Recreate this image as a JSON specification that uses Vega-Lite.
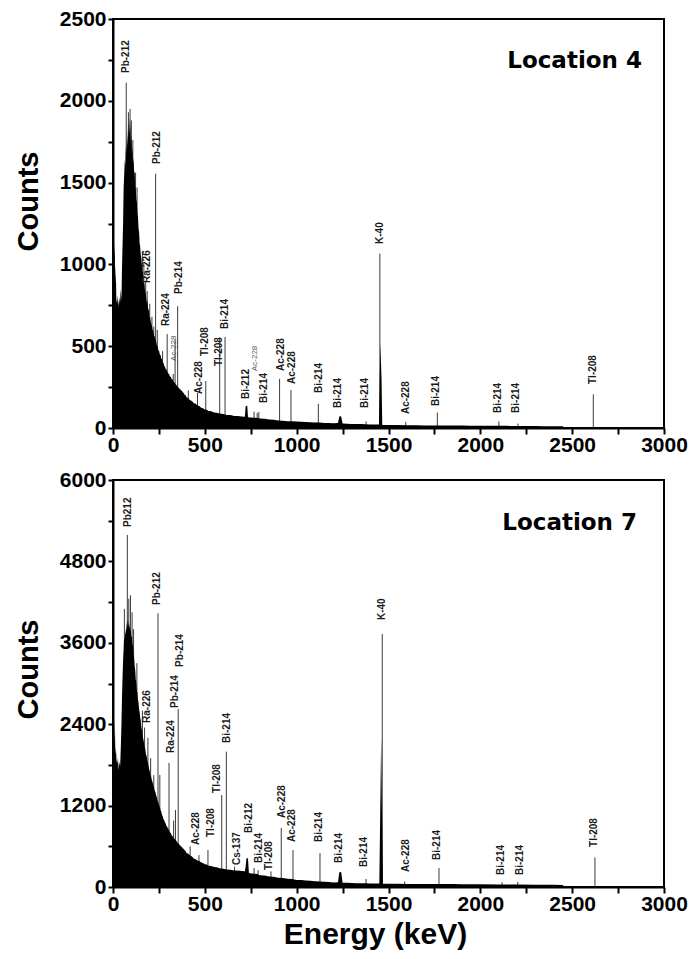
{
  "$schema": "https://vega.github.io/schema/vega-lite/v6.json",
  "padding": {"left": 13, "top": 7, "right": 5, "bottom": 3},
  "spacing": 12,
  "resolve": {"scale": {"x": "independent", "y": "independent"}},
  "config": {
    "view": {"stroke": "black", "strokeWidth": 2},
    "font": "Liberation Sans",
    "axis": {
      "grid": false,
      "domainColor": "black",
      "domainWidth": 2,
      "tickColor": "black",
      "tickWidth": 2,
      "labelFont": "Liberation Sans",
      "labelFontWeight": "bold",
      "labelFontSize": 21,
      "labelColor": "black",
      "labelOverlap": false,
      "labelFlush": false,
      "titleFont": "Liberation Sans",
      "titleFontWeight": "bold",
      "titleColor": "black",
      "titleFontSize": 29
    }
  },
  "datasets": {
    "s4": [
      {"e":0,"c":0},{"e":2,"c":2230},{"e":4,"c":1300},{"e":6,"c":1050},{"e":9,"c":1120},{"e":12,"c":880},{"e":15,"c":1000},{"e":18,"c":790},{"e":22,"c":760},{"e":26,"c":810},{"e":30,"c":740},{"e":34,"c":800},{"e":38,"c":760},{"e":42,"c":850},{"e":46,"c":780},{"e":49,"c":980},{"e":52,"c":1120},{"e":55,"c":1260},{"e":58,"c":1470},{"e":61,"c":1550},{"e":64,"c":1640},{"e":67,"c":1600},{"e":70,"c":1720},{"e":73,"c":1680},{"e":76,"c":1800},{"e":79,"c":1720},{"e":82,"c":1870},{"e":85,"c":1760},{"e":88,"c":1900},{"e":91,"c":1800},{"e":94,"c":1860},{"e":97,"c":1740},{"e":100,"c":1790},{"e":103,"c":1680},{"e":106,"c":1720},{"e":109,"c":1620},{"e":112,"c":1650},{"e":115,"c":1560},{"e":118,"c":1570},{"e":121,"c":1470},{"e":124,"c":1460},{"e":127,"c":1400},{"e":130,"c":1380},{"e":133,"c":1310},{"e":136,"c":1290},{"e":139,"c":1220},{"e":142,"c":1200},{"e":145,"c":1130},{"e":148,"c":1110},{"e":151,"c":1060},{"e":155,"c":1030},{"e":159,"c":960},{"e":163,"c":950},{"e":167,"c":890},{"e":171,"c":880},{"e":175,"c":830},{"e":179,"c":820},{"e":183,"c":770},{"e":187,"c":780},{"e":191,"c":730},{"e":195,"c":720},{"e":199,"c":680},{"e":203,"c":670},{"e":207,"c":640},{"e":211,"c":630},{"e":215,"c":600},{"e":219,"c":595},{"e":223,"c":565},{"e":227,"c":560},{"e":231,"c":540},{"e":235,"c":530},{"e":239,"c":505},{"e":243,"c":500},{"e":247,"c":475},{"e":251,"c":470},{"e":255,"c":450},{"e":259,"c":445},{"e":263,"c":425},{"e":267,"c":420},{"e":271,"c":400},{"e":275,"c":398},{"e":279,"c":380},{"e":283,"c":375},{"e":287,"c":360},{"e":291,"c":358},{"e":295,"c":345},{"e":300,"c":335},{"e":305,"c":330},{"e":310,"c":315},{"e":315,"c":312},{"e":320,"c":298},{"e":325,"c":296},{"e":330,"c":282},{"e":335,"c":280},{"e":340,"c":268},{"e":345,"c":265},{"e":350,"c":252},{"e":355,"c":250},{"e":360,"c":242},{"e":365,"c":238},{"e":370,"c":230},{"e":375,"c":228},{"e":380,"c":218},{"e":385,"c":214},{"e":390,"c":204},{"e":395,"c":200},{"e":400,"c":190},{"e":410,"c":182},{"e":420,"c":170},{"e":430,"c":165},{"e":440,"c":152},{"e":450,"c":148},{"e":460,"c":138},{"e":470,"c":134},{"e":480,"c":124},{"e":490,"c":121},{"e":500,"c":113},{"e":510,"c":111},{"e":520,"c":104},{"e":535,"c":102},{"e":550,"c":95},{"e":565,"c":93},{"e":580,"c":88},{"e":600,"c":86},{"e":620,"c":80},{"e":640,"c":79},{"e":660,"c":74},{"e":680,"c":73},{"e":700,"c":70},{"e":718,"c":69},{"e":722,"c":132},{"e":731,"c":138},{"e":735,"c":66},{"e":750,"c":64},{"e":765,"c":62},{"e":780,"c":63},{"e":800,"c":58},{"e":825,"c":56},{"e":850,"c":52},{"e":875,"c":50},{"e":900,"c":46},{"e":925,"c":45},{"e":950,"c":42},{"e":975,"c":41},{"e":1000,"c":39},{"e":1025,"c":38},{"e":1050,"c":36},{"e":1075,"c":35},{"e":1100,"c":34},{"e":1125,"c":33},{"e":1150,"c":31},{"e":1175,"c":30},{"e":1200,"c":29},{"e":1225,"c":30},{"e":1232,"c":70},{"e":1242,"c":72},{"e":1250,"c":27},{"e":1275,"c":26},{"e":1300,"c":25},{"e":1325,"c":24},{"e":1350,"c":24},{"e":1375,"c":23},{"e":1400,"c":22},{"e":1425,"c":22},{"e":1448,"c":21},{"e":1452,"c":280},{"e":1456,"c":520},{"e":1462,"c":300},{"e":1466,"c":19},{"e":1480,"c":19},{"e":1500,"c":18},{"e":1550,"c":18},{"e":1600,"c":17},{"e":1650,"c":17},{"e":1700,"c":16},{"e":1750,"c":16},{"e":1800,"c":15},{"e":1850,"c":15},{"e":1900,"c":15},{"e":1950,"c":14},{"e":2000,"c":14},{"e":2050,"c":14},{"e":2100,"c":13},{"e":2150,"c":13},{"e":2200,"c":12},{"e":2250,"c":12},{"e":2300,"c":12},{"e":2350,"c":11},{"e":2400,"c":11},{"e":2450,"c":10},{"e":2455,"c":2},{"e":2550,"c":2},{"e":2600,"c":1},{"e":2700,"c":1},{"e":3000,"c":0}
    ],
    "r4": [
      {"e":72,"c":2110},{"e":232,"c":1554},{"e":186,"c":837},{"e":295,"c":574},{"e":338,"c":540},{"e":352,"c":745},{"e":460,"c":215},{"e":505,"c":287},{"e":581,"c":550},{"e":610,"c":556},{"e":768,"c":100},{"e":785,"c":92},{"e":794,"c":98},{"e":907,"c":300},{"e":969,"c":232},{"e":1118,"c":148},{"e":1378,"c":40},{"e":1453,"c":1066},{"e":1594,"c":38},{"e":1766,"c":94},{"e":2101,"c":40},{"e":2205,"c":27},{"e":2615,"c":206},
      {"e":84,"c":1930},{"e":93,"c":1950},{"e":100,"c":1880},{"e":108,"c":1760},{"e":123,"c":1560},{"e":131,"c":1470},{"e":160,"c":1080},{"e":168,"c":1000},{"e":178,"c":900},{"e":200,"c":760},{"e":212,"c":680},{"e":222,"c":620},{"e":241,"c":600},{"e":270,"c":470},{"e":328,"c":330},{"e":410,"c":230}
    ],
    "t4": [
      {"n":"Pb-212","e":72,"c":2170},{"n":"Pb-212","e":241,"c":1614},{"n":"Ra-226","e":187,"c":886},{"n":"Ra-224","e":287,"c":623},{"n":"Pb-214","e":359,"c":819},{"n":"Ac-228","e":468,"c":208},{"n":"Tl-208","e":501,"c":440},{"n":"Tl-208","e":577,"c":379},{"n":"Bi-214","e":610,"c":605},{"n":"Bi-212","e":722,"c":177},{"n":"Bi-214","e":822,"c":153},{"n":"Ac-228","e":913,"c":348},{"n":"Ac-228","e":973,"c":269},{"n":"Bi-214","e":1121,"c":214},{"n":"Bi-214","e":1227,"c":122},{"n":"Bi-214","e":1370,"c":122},{"n":"K-40","e":1453,"c":1125},{"n":"Ac-228","e":1594,"c":85},{"n":"Bi-214","e":1757,"c":134},{"n":"Bi-214","e":2096,"c":92},{"n":"Bi-214","e":2196,"c":92},{"n":"Tl-208","e":2613,"c":269}
    ],
    "m4": [
      {"n":"Ac-228","e":332,"c":410},{"n":"Ac-228","e":773,"c":348}
    ],
    "s7": [
      {"e":0,"c":0},{"e":2,"c":3670},{"e":4,"c":2500},{"e":7,"c":2100},{"e":10,"c":2460},{"e":13,"c":1950},{"e":16,"c":2050},{"e":19,"c":1870},{"e":23,"c":1820},{"e":27,"c":1900},{"e":31,"c":1720},{"e":35,"c":1850},{"e":39,"c":1780},{"e":43,"c":2100},{"e":46,"c":2400},{"e":49,"c":2800},{"e":52,"c":3100},{"e":55,"c":3350},{"e":58,"c":3500},{"e":61,"c":3700},{"e":64,"c":3620},{"e":67,"c":3800},{"e":70,"c":3720},{"e":73,"c":3900},{"e":76,"c":3780},{"e":79,"c":3950},{"e":82,"c":3830},{"e":85,"c":3920},{"e":88,"c":3800},{"e":91,"c":3880},{"e":94,"c":3750},{"e":97,"c":3820},{"e":100,"c":3680},{"e":103,"c":3700},{"e":106,"c":3560},{"e":109,"c":3580},{"e":112,"c":3420},{"e":115,"c":3380},{"e":118,"c":3250},{"e":121,"c":3200},{"e":124,"c":3060},{"e":127,"c":3020},{"e":130,"c":2900},{"e":133,"c":2860},{"e":136,"c":2760},{"e":139,"c":2720},{"e":142,"c":2620},{"e":145,"c":2580},{"e":148,"c":2500},{"e":151,"c":2460},{"e":155,"c":2350},{"e":159,"c":2300},{"e":163,"c":2200},{"e":167,"c":2160},{"e":171,"c":2080},{"e":175,"c":2040},{"e":179,"c":1960},{"e":183,"c":1930},{"e":187,"c":1860},{"e":191,"c":1820},{"e":195,"c":1760},{"e":199,"c":1720},{"e":203,"c":1660},{"e":207,"c":1630},{"e":211,"c":1580},{"e":215,"c":1550},{"e":219,"c":1500},{"e":223,"c":1470},{"e":227,"c":1420},{"e":231,"c":1400},{"e":235,"c":1350},{"e":239,"c":1320},{"e":243,"c":1270},{"e":247,"c":1250},{"e":251,"c":1200},{"e":255,"c":1180},{"e":259,"c":1130},{"e":263,"c":1110},{"e":267,"c":1060},{"e":271,"c":1040},{"e":275,"c":1000},{"e":279,"c":985},{"e":283,"c":950},{"e":287,"c":935},{"e":291,"c":900},{"e":295,"c":890},{"e":300,"c":860},{"e":305,"c":840},{"e":310,"c":805},{"e":315,"c":795},{"e":320,"c":760},{"e":325,"c":750},{"e":330,"c":720},{"e":335,"c":712},{"e":340,"c":690},{"e":345,"c":680},{"e":350,"c":655},{"e":355,"c":648},{"e":360,"c":625},{"e":365,"c":618},{"e":370,"c":598},{"e":375,"c":590},{"e":380,"c":570},{"e":385,"c":562},{"e":390,"c":540},{"e":395,"c":530},{"e":400,"c":500},{"e":410,"c":490},{"e":420,"c":465},{"e":430,"c":450},{"e":440,"c":420},{"e":450,"c":410},{"e":460,"c":392},{"e":470,"c":385},{"e":480,"c":362},{"e":490,"c":355},{"e":500,"c":335},{"e":510,"c":330},{"e":520,"c":315},{"e":535,"c":310},{"e":550,"c":295},{"e":565,"c":290},{"e":580,"c":275},{"e":600,"c":270},{"e":620,"c":258},{"e":640,"c":254},{"e":660,"c":245},{"e":680,"c":242},{"e":700,"c":235},{"e":718,"c":232},{"e":722,"c":300},{"e":727,"c":427},{"e":735,"c":420},{"e":740,"c":205},{"e":755,"c":200},{"e":770,"c":196},{"e":785,"c":190},{"e":800,"c":175},{"e":825,"c":170},{"e":850,"c":155},{"e":875,"c":150},{"e":900,"c":135},{"e":925,"c":131},{"e":950,"c":120},{"e":975,"c":117},{"e":1000,"c":105},{"e":1025,"c":102},{"e":1050,"c":95},{"e":1075,"c":92},{"e":1100,"c":85},{"e":1125,"c":82},{"e":1150,"c":76},{"e":1175,"c":74},{"e":1200,"c":68},{"e":1225,"c":70},{"e":1232,"c":215},{"e":1242,"c":226},{"e":1250,"c":64},{"e":1275,"c":61},{"e":1300,"c":58},{"e":1325,"c":57},{"e":1350,"c":55},{"e":1375,"c":54},{"e":1400,"c":52},{"e":1425,"c":51},{"e":1450,"c":50},{"e":1455,"c":1100},{"e":1460,"c":2200},{"e":1464,"c":1200},{"e":1470,"c":49},{"e":1480,"c":49},{"e":1500,"c":48},{"e":1550,"c":47},{"e":1600,"c":46},{"e":1650,"c":46},{"e":1700,"c":45},{"e":1750,"c":44},{"e":1800,"c":44},{"e":1850,"c":43},{"e":1900,"c":42},{"e":1950,"c":41},{"e":2000,"c":40},{"e":2100,"c":38},{"e":2200,"c":36},{"e":2300,"c":34},{"e":2400,"c":32},{"e":2450,"c":30},{"e":2455,"c":4},{"e":2550,"c":4},{"e":2600,"c":3},{"e":2700,"c":2},{"e":3000,"c":0}
    ],
    "r7": [
      {"e":78,"c":5190},{"e":245,"c":4035},{"e":190,"c":2200},{"e":305,"c":1830},{"e":340,"c":1135},{"e":355,"c":2624},{"e":468,"c":470},{"e":517,"c":545},{"e":592,"c":1356},{"e":617,"c":1995},{"e":662,"c":300},{"e":768,"c":280},{"e":790,"c":250},{"e":860,"c":230},{"e":916,"c":870},{"e":980,"c":545},{"e":1127,"c":500},{"e":1378,"c":118},{"e":1466,"c":3730},{"e":1588,"c":80},{"e":1775,"c":280},{"e":2118,"c":70},{"e":2204,"c":75},{"e":2624,"c":438},
      {"e":62,"c":4100},{"e":86,"c":4250},{"e":95,"c":4300},{"e":104,"c":4050},{"e":112,"c":3800},{"e":130,"c":3300},{"e":160,"c":2600},{"e":172,"c":2350},{"e":205,"c":1900},{"e":222,"c":1650},{"e":255,"c":1650},{"e":330,"c":980},{"e":420,"c":600}
    ],
    "t7": [
      {"n":"Pb212","e":82,"c":5307},{"n":"Pb-212","e":240,"c":4157},{"n":"Ra-226","e":187,"c":2418},{"n":"Ra-224","e":314,"c":1975},{"n":"Pb-214","e":335,"c":2640},{"n":"Pb-214","e":365,"c":3245},{"n":"Ac-228","e":450,"c":620},{"n":"Tl-208","e":532,"c":737},{"n":"Tl-208","e":568,"c":1386},{"n":"Bi-214","e":619,"c":2123},{"n":"Cs-137","e":673,"c":324},{"n":"Bi-212","e":740,"c":796},{"n":"Bi-214","e":795,"c":354},{"n":"Tl-208","e":849,"c":250},{"n":"Ac-228","e":918,"c":1017},{"n":"Ac-228","e":976,"c":663},{"n":"Bi-214","e":1121,"c":663},{"n":"Bi-214","e":1230,"c":354},{"n":"Bi-214","e":1366,"c":295},{"n":"K-40","e":1466,"c":3936},{"n":"Ac-228","e":1594,"c":221},{"n":"Bi-214","e":1766,"c":398},{"n":"Bi-214","e":2114,"c":177},{"n":"Bi-214","e":2216,"c":177},{"n":"Tl-208","e":2619,"c":590}
    ],
    "loc4": [{"e": 2880, "c": 2243, "n": "Location 4"}],
    "loc7": [{"e": 2853, "c": 5366, "n": "Location 7"}]
  },
  "vconcat": [
    {
      "width": 551,
      "height": 409,
      "layer": [
        {
          "data": {"name": "r4"},
          "mark": {"type": "rule", "color": "#3a3a3a", "strokeWidth": 1},
          "encoding": {
            "x": {"field": "e", "type": "quantitative", "scale": {"domain": [0, 3000], "nice": false},
              "axis": {"title": null, "values": [0,250,500,750,1000,1250,1500,1750,2000,2250,2500,2750,3000], "format": "d",
                "labelExpr": "datum.value % 500 === 0 ? datum.label : ''",
                "tickSize": 6,
                "labelPadding": 0}},
            "y": {"field": "c", "type": "quantitative", "scale": {"domain": [0, 2500], "nice": false},
              "axis": {"title": "Counts", "values": [0,250,500,750,1000,1250,1500,1750,2000,2250,2500], "format": "d",
                "labelExpr": "datum.value % 500 === 0 ? datum.label : ''",
                "tickSize": 5,
                "labelPadding": 2, "titlePadding": 16, "titleY": 182}},
            "y2": {"datum": 0}
          }
        },
        {
          "data": {"name": "s4"},
          "mark": {"type": "area", "color": "black", "interpolate": "linear"},
          "encoding": {
            "x": {"field": "e", "type": "quantitative"},
            "y": {"field": "c", "type": "quantitative"}
          }
        },
        {
          "data": {"name": "t4"},
          "mark": {"type": "text", "angle": 270, "align": "left", "baseline": "middle", "fontSize": 10, "fontWeight": "bold", "color": "#1a1a1a"},
          "encoding": {
            "x": {"field": "e", "type": "quantitative"},
            "y": {"field": "c", "type": "quantitative"},
            "text": {"field": "n", "type": "nominal"}
          }
        },
        {
          "data": {"name": "m4"},
          "mark": {"type": "text", "angle": 270, "align": "left", "baseline": "middle", "fontSize": 8, "color": "#555555"},
          "encoding": {
            "x": {"field": "e", "type": "quantitative"},
            "y": {"field": "c", "type": "quantitative"},
            "text": {"field": "n", "type": "nominal"}
          }
        },
        {
          "data": {"name": "loc4"},
          "mark": {"type": "text", "align": "right", "baseline": "middle", "font": "DejaVu Sans", "fontWeight": "bold", "fontSize": 23, "color": "black"},
          "encoding": {
            "x": {"field": "e", "type": "quantitative"},
            "y": {"field": "c", "type": "quantitative"},
            "text": {"field": "n", "type": "nominal"}
          }
        }
      ]
    },
    {
      "width": 551,
      "height": 407,
      "layer": [
        {
          "data": {"name": "r7"},
          "mark": {"type": "rule", "color": "#3a3a3a", "strokeWidth": 1},
          "encoding": {
            "x": {"field": "e", "type": "quantitative", "scale": {"domain": [0, 3000], "nice": false},
              "axis": {"title": "Energy (keV)", "titleFontSize": 30, "values": [0,250,500,750,1000,1250,1500,1750,2000,2250,2500,2750,3000], "format": "d",
                "labelExpr": "datum.value % 500 === 0 ? datum.label : ''",
                "tickSize": 6,
                "labelPadding": 0, "titlePadding": 5, "titleX": 262}},
            "y": {"field": "c", "type": "quantitative", "scale": {"domain": [0, 6000], "nice": false},
              "axis": {"title": "Counts", "values": [0,600,1200,1800,2400,3000,3600,4200,4800,5400,6000], "format": "d",
                "labelExpr": "datum.value % 1200 === 0 ? datum.label : ''",
                "tickSize": 5,
                "labelPadding": 2, "titlePadding": 16, "titleY": 189}},
            "y2": {"datum": 0}
          }
        },
        {
          "data": {"name": "s7"},
          "mark": {"type": "area", "color": "black", "interpolate": "linear"},
          "encoding": {
            "x": {"field": "e", "type": "quantitative"},
            "y": {"field": "c", "type": "quantitative"}
          }
        },
        {
          "data": {"name": "t7"},
          "mark": {"type": "text", "angle": 270, "align": "left", "baseline": "middle", "fontSize": 10, "fontWeight": "bold", "color": "#1a1a1a"},
          "encoding": {
            "x": {"field": "e", "type": "quantitative"},
            "y": {"field": "c", "type": "quantitative"},
            "text": {"field": "n", "type": "nominal"}
          }
        },
        {
          "data": {"name": "loc7"},
          "mark": {"type": "text", "align": "right", "baseline": "middle", "font": "DejaVu Sans", "fontWeight": "bold", "fontSize": 23, "color": "black"},
          "encoding": {
            "x": {"field": "e", "type": "quantitative"},
            "y": {"field": "c", "type": "quantitative"},
            "text": {"field": "n", "type": "nominal"}
          }
        }
      ]
    }
  ]
}
